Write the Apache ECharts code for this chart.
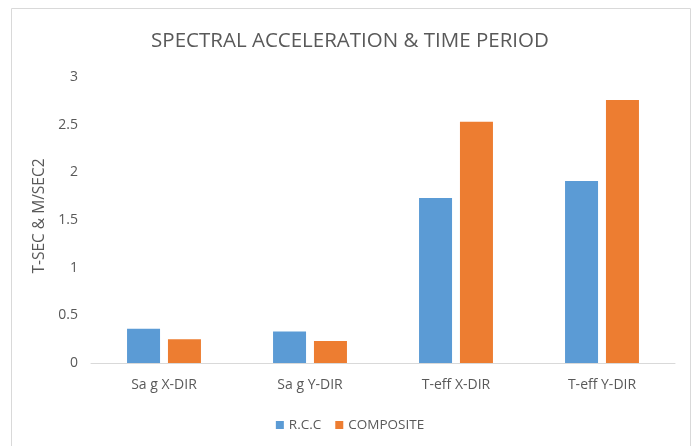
<!DOCTYPE html>
<html><head><meta charset="utf-8">
<script src="https://cdn.jsdelivr.net/npm/echarts@6/dist/echarts.min.js"></script>
<style>html,body{margin:0;padding:0;background:#fff}#c{width:700px;height:446px}</style>
</head><body><div id="c"></div>
<script>
const categories = ['Sa g X-DIR', 'Sa g Y-DIR', 'T-eff X-DIR', 'T-eff Y-DIR'];
const rccValues = [0.36, 0.33, 1.73, 1.91];
const compositeValues = [0.25, 0.23, 2.53, 2.76];
const yTicks = [0, 0.5, 1, 1.5, 2, 2.5, 3];

const chart = echarts.init(document.getElementById('c'), null, {renderer: 'canvas'});
const txt = '#595959';
const font = '"Open Sans", "Liberation Sans", sans-serif';
chart.setOption({
  animation: false,
  textStyle: {fontFamily: font},
  graphic: [{type: 'rect', shape: {x: 11.5, y: 8.5, width: 679, height: 460}, style: {fill: 'none', stroke: '#d9d9d9', lineWidth: 1}, z: -1}],
  title: {text: 'SPECTRAL ACCELERATION & TIME PERIOD', left: 'center', top: 26,
    textStyle: {color: txt, fontSize: 20.5, fontWeight: 'normal', fontFamily: font}},
  legend: {data: ['R.C.C', 'COMPOSITE'], left: 'center', top: 413, itemWidth: 8, itemHeight: 8, itemGap: 14,
    icon: 'rect', textStyle: {color: txt, fontSize: 13.5, fontFamily: font}},
  grid: {left: 91, right: 25, top: 77, bottom: 83},
  xAxis: {type: 'category', data: categories,
    axisLine: {lineStyle: {color: '#d9d9d9'}}, axisTick: {show: false},
    axisLabel: {color: txt, fontSize: 14, margin: 15, fontFamily: font}},
  yAxis: {type: 'value', min: yTicks[0], max: yTicks[yTicks.length - 1], interval: 0.5,
    name: 'T-SEC & M/SEC2', nameLocation: 'middle', nameGap: 40,
    nameTextStyle: {color: txt, fontSize: 15.5, fontFamily: font, padding: [0, 0, 0, 8]},
    axisLine: {show: false}, axisTick: {show: false}, splitLine: {show: false},
    axisLabel: {color: txt, fontSize: 14, margin: 13, fontFamily: font}},
  series: [
    {name: 'R.C.C', type: 'bar', data: rccValues, barWidth: 33, barGap: '24%', itemStyle: {color: '#5B9BD5'}},
    {name: 'COMPOSITE', type: 'bar', data: compositeValues, barWidth: 33, itemStyle: {color: '#ED7D31'}}
  ]
});
</script></body></html>
